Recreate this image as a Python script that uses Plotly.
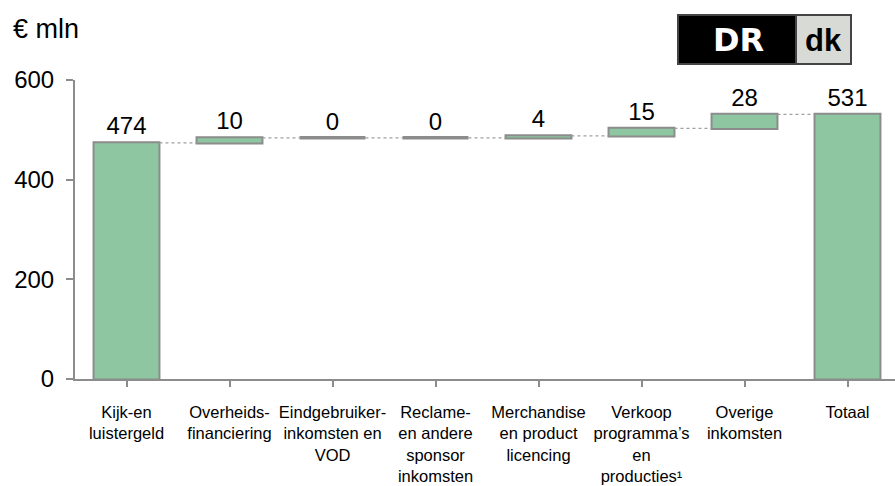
import plotly.graph_objects as go

categories = [
    "Kijk-en<br>luistergeld",
    "Overheids-<br>financiering",
    "Eindgebruiker-<br>inkomsten en<br>VOD",
    "Reclame-<br>en andere<br>sponsor<br>inkomsten",
    "Merchandise<br>en product<br>licencing",
    "Verkoop<br>programma’s<br>en<br>producties¹",
    "Overige<br>inkomsten",
    "Totaal",
]
values = [474, 10, 0, 0, 4, 15, 28]
total = sum(values)
measures = ["absolute"] + ["relative"] * (len(values) - 1) + ["total"]
y_vals = values + [0]
labels = [str(v) for v in values] + [str(total)]
y_ticks = [0, 200, 400, 600]

FONT = "Liberation Sans, Arial, sans-serif"
GREEN = "#8DC6A0"
GREY = "#8C8C8C"
BAR_W = 0.64

xs = list(range(len(categories)))

fig = go.Figure(go.Waterfall(
    x=xs,
    y=y_vals,
    measure=measures,
    text=labels,
    textinfo="text",
    textposition="outside",
    constraintext="none",
    cliponaxis=False,
    outsidetextfont=dict(size=24, color="black", family=FONT),
    increasing=dict(marker=dict(color=GREEN, line=dict(color=GREY, width=2))),
    decreasing=dict(marker=dict(color=GREEN, line=dict(color=GREY, width=2))),
    totals=dict(marker=dict(color=GREEN, line=dict(color=GREY, width=2))),
    connector=dict(mode="between", line=dict(color="#A0A0A0", width=1.2, dash="dot")),
    width=[BAR_W] * len(categories),
    hoverinfo="skip",
))

# zero-height bars are drawn by plotly as nothing; show them as outline strokes
running = 0
for i, v in enumerate(values):
    running += v
    if v == 0:
        fig.add_trace(go.Scatter(
            x=[i - BAR_W / 2, i + BAR_W / 2], y=[running, running],
            mode="lines", line=dict(color=GREY, width=3.5),
            hoverinfo="skip", showlegend=False, cliponaxis=False,
        ))

L, R, T, B = 75, 0, 80, 107
W, H = 895, 486
pw = W - L - R
ph = H - T - B

def px(x):
    return (x - L) / pw

def py(y):
    return (H - B - y) / ph

shapes = [
    dict(type="rect", xref="paper", yref="paper", x0=px(678), x1=px(796), y0=py(64), y1=py(15),
         fillcolor="black", line=dict(color="#444444", width=2), layer="above"),
    dict(type="rect", xref="paper", yref="paper", x0=px(796), x1=px(851), y0=py(64), y1=py(15),
         fillcolor="#D8DAD6", line=dict(color="#444444", width=2), layer="above"),
]

annotations = [
    dict(text="€ mln", xref="paper", yref="paper", x=px(11), y=py(29), xanchor="left", yanchor="middle",
         showarrow=False, font=dict(size=27, color="black", family=FONT)),
    dict(text="<b>DR</b>", xref="paper", yref="paper", x=px(738), y=py(40), xanchor="center", yanchor="middle",
         showarrow=False, font=dict(size=32, color="white", family="DejaVu Sans, sans-serif")),
    dict(text="<b>dk</b>", xref="paper", yref="paper", x=px(823), y=py(40), xanchor="center", yanchor="middle",
         showarrow=False, font=dict(size=31, color="black", family="Liberation Sans, Arial, sans-serif")),
]

fig.update_layout(
    width=W, height=H,
    margin=dict(l=L, r=R, t=T, b=B),
    paper_bgcolor="white", plot_bgcolor="white",
    showlegend=False,
    font=dict(family=FONT, color="black"),
    shapes=shapes,
    annotations=annotations,
    xaxis=dict(
        tickmode="array", tickvals=xs, ticktext=categories,
        range=[-0.5, -0.5 + pw / 103.0],
        showline=True, linecolor=GREY, linewidth=2,
        ticks="outside", tickson="boundaries", ticklen=6, tickcolor=GREY, tickwidth=2,
        tickfont=dict(size=16.5, family=FONT, color="black"),
        ticklabelstandoff=11,
        showgrid=False, zeroline=False, fixedrange=True,
    ),
    yaxis=dict(
        range=[0, 600], tickvals=y_ticks,
        showline=True, linecolor=GREY, linewidth=2,
        ticks="outside", ticklen=7, tickcolor=GREY, tickwidth=2,
        tickfont=dict(size=24, family=FONT, color="black"),
        ticklabelstandoff=7,
        showgrid=False, zeroline=False, fixedrange=True,
    ),
)

fig.write_html(
    "out.html",
    config={"displayModeBar": False, "staticPlot": True},
    post_script="document.body.style.margin='0';document.body.style.overflow='hidden';",
)
